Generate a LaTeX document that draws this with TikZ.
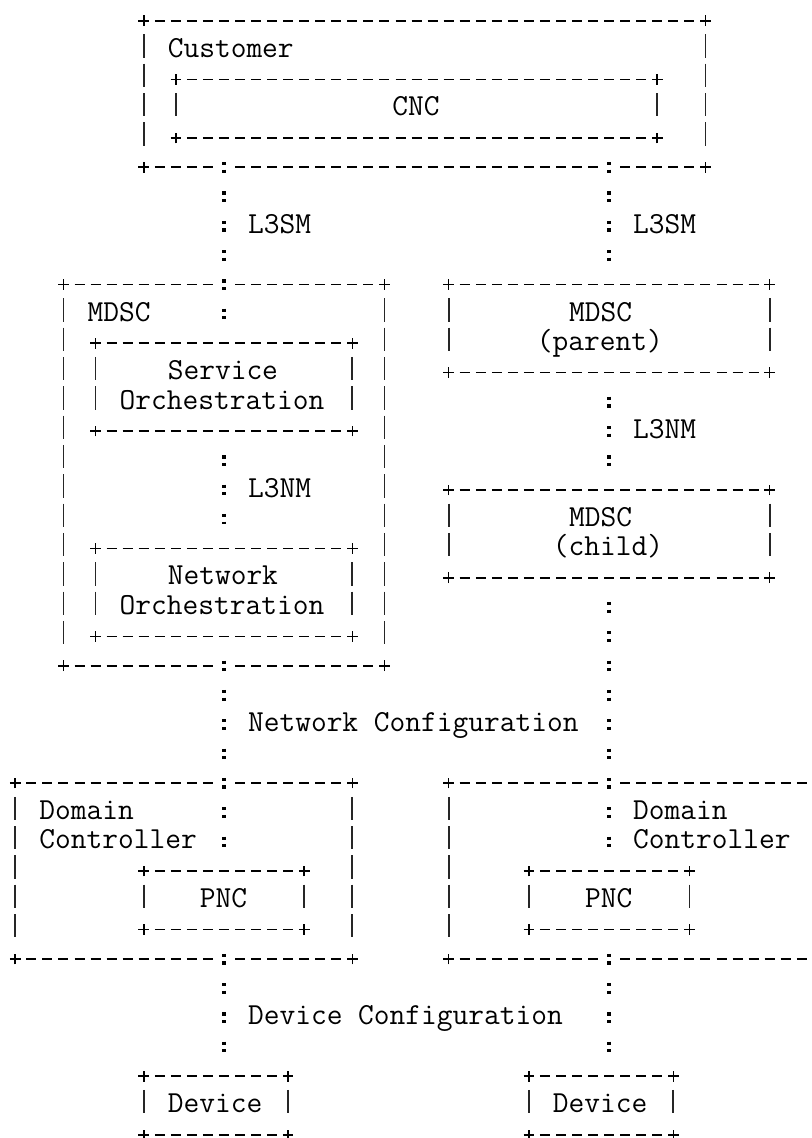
\documentclass[tikz,border=0pt]{standalone}
\usepackage{fontspec}
\usetikzlibrary{fit,calc}

% One x unit is one character cell, one y unit is one text line (downwards).
\tikzset{
  boxarea/.style={rectangle, inner sep=0pt, outer sep=0pt, draw=none},
  hrule/.style={line width=1.25pt, dash pattern=on 7.5pt off 4.5375pt, dash phase=3.75pt},
  vrule/.style={line width=1.3pt, black!85, dash pattern=on 17.55pt off 4.44pt},
  corner/.style={line width=1.25pt},
  colonline/.style={line width=2.5pt,
    dash pattern=on 2.4pt off 3.3pt on 2.4pt off 13.89pt, dash phase=-0.1pt,
    preaction={draw=white, solid, line width=9.75pt}},
  asciitxt/.style={anchor=base west, inner sep=0pt, outer sep=0pt, yshift=-5.4pt,
    font=\ttfamily\fontsize{22.93pt}{26pt}\selectfont},
}

% '+' corner mark
\newcommand\asciiplus[1]{%
  \draw[corner] ($(#1)+(-3.975pt,0pt)$) -- ($(#1)+(3.975pt,0pt)$)
                ($(#1)+(0pt,-3.975pt)$) -- ($(#1)+(0pt,3.975pt)$);}

% box: name, left col, top row, right col, bottom row
\newcommand\asciibox[5]{%
  \node[boxarea, fit={(#2,#3) (#4,#5)}] (#1) {};
  \draw[hrule] (#1.north west) -- (#1.north east);
  \draw[hrule] (#1.south west) -- (#1.south east);
  \draw[vrule] ($(#1.north west)+(0,1)+(0pt,11.7pt)$) -- ($(#1.south west)+(0,-1)+(0pt,-5.85pt)$);
  \draw[vrule] ($(#1.north east)+(0,1)+(0pt,11.7pt)$) -- ($(#1.south east)+(0,-1)+(0pt,-5.85pt)$);
  \foreach \k in {north west,north east,south west,south east}{\asciiplus{#1.\k}}%
}

% text: name, first col, row, text
\newcommand\asciitext[4]{\node[asciitxt] (#1) at (#2-0.5,#3) {#4};}

\begin{document}
\begin{tikzpicture}[x=12.0375pt, y=-21.99pt]
\useasboundingbox (-0.9533,-0.706) rectangle (49.6386,38.107);
\clip (-0.9533,-0.706) rectangle (49.6386,38.107);

% boxes
\asciibox{customer}{8}{0}{43}{5}
\asciibox{cnc}{10}{2}{40}{4}
\asciibox{mdsc}{3}{9}{23}{22}
\asciibox{svc}{5}{11}{21}{14}
\asciibox{netorch}{5}{18}{21}{21}
\asciibox{parent}{27}{9}{47}{12}
\asciibox{child}{27}{16}{47}{19}
\asciibox{dc1}{0}{26}{21}{32}
\asciibox{pnc1}{8}{29}{18}{31}
\asciibox{pnc2}{32}{29}{42}{31}
\asciibox{dev1}{8}{36}{17}{38}
\asciibox{dev2}{32}{36}{41}{38}

% second domain controller, running off the right edge
\node[boxarea, fit={(27,26) (50.6,32)}] (dc2) {};
\draw[hrule] (dc2.north west) -- (dc2.north east);
\draw[hrule] (dc2.south west) -- (dc2.south east);
\draw[vrule] ($(dc2.north west)+(0,1)+(0pt,11.7pt)$) -- ($(dc2.south west)+(0,-1)+(0pt,-5.85pt)$);
\asciiplus{dc2.north west}
\asciiplus{dc2.south west}

% connector columns
\coordinate (lcol) at (13,0);
\coordinate (rcol) at (37,0);

% dotted interfaces
\draw[colonline] ($(customer.south -| lcol)+(0pt,3.975pt)$) -- ($(svc.north -| lcol)+(0,-1)+(0pt,-3.975pt)$);
\draw[colonline] ($(customer.south -| rcol)+(0pt,3.975pt)$) -- ($(parent.north -| rcol)+(0,-1)+(0pt,-3.975pt)$);
\draw[colonline] ($(svc.south -| lcol)+(0,1)+(0pt,3.975pt)$) -- ($(netorch.north -| lcol)+(0,-1)+(0pt,-3.975pt)$);
\draw[colonline] ($(parent.south -| rcol)+(0,1)+(0pt,3.975pt)$) -- ($(child.north -| rcol)+(0,-1)+(0pt,-3.975pt)$);
\draw[colonline] ($(mdsc.south -| lcol)+(0pt,3.975pt)$) -- ($(pnc1.north -| lcol)+(0,-1)+(0pt,-3.975pt)$);
\draw[colonline] ($(child.south -| rcol)+(0,1)+(0pt,3.975pt)$) -- ($(pnc2.north -| rcol)+(0,-1)+(0pt,-3.975pt)$);
\draw[colonline] ($(dc1.south -| lcol)+(0pt,3.975pt)$) -- ($(dev1.north -| lcol)+(0,-1)+(0pt,-3.975pt)$);
\draw[colonline] ($(dc2.south -| rcol)+(0pt,3.975pt)$) -- ($(dev2.north -| rcol)+(0,-1)+(0pt,-3.975pt)$);

% labels
\asciitext{customertxt}{10}{1}{Customer}
\asciitext{cnctxt}{24}{3}{CNC}
\asciitext{lsmleft}{15}{7}{L3SM}
\asciitext{lsmright}{39}{7}{L3SM}
\asciitext{mdsctxt}{5}{10}{MDSC}
\asciitext{parenttxta}{35}{10}{MDSC}
\asciitext{parenttxtb}{33}{11}{(parent)}
\asciitext{svctxta}{10}{12}{Service}
\asciitext{svctxtb}{7}{13}{Orchestration}
\asciitext{lnmright}{39}{14}{L3NM}
\asciitext{lnmleft}{15}{16}{L3NM}
\asciitext{childtxta}{35}{17}{MDSC}
\asciitext{childtxtb}{34}{18}{(child)}
\asciitext{nettxta}{10}{19}{Network}
\asciitext{nettxtb}{7}{20}{Orchestration}
\asciitext{netconf}{15}{24}{Network Configuration}
\asciitext{dconetxta}{2}{27}{Domain}
\asciitext{dconetxtb}{2}{28}{Controller}
\asciitext{dctwotxta}{39}{27}{Domain}
\asciitext{dctwotxtb}{39}{28}{Controller}
\asciitext{pncone}{12}{30}{PNC}
\asciitext{pnctwo}{36}{30}{PNC}
\asciitext{devconf}{15}{34}{Device Configuration}
\asciitext{devone}{10}{37}{Device}
\asciitext{devtwo}{34}{37}{Device}
\end{tikzpicture}
\end{document}
